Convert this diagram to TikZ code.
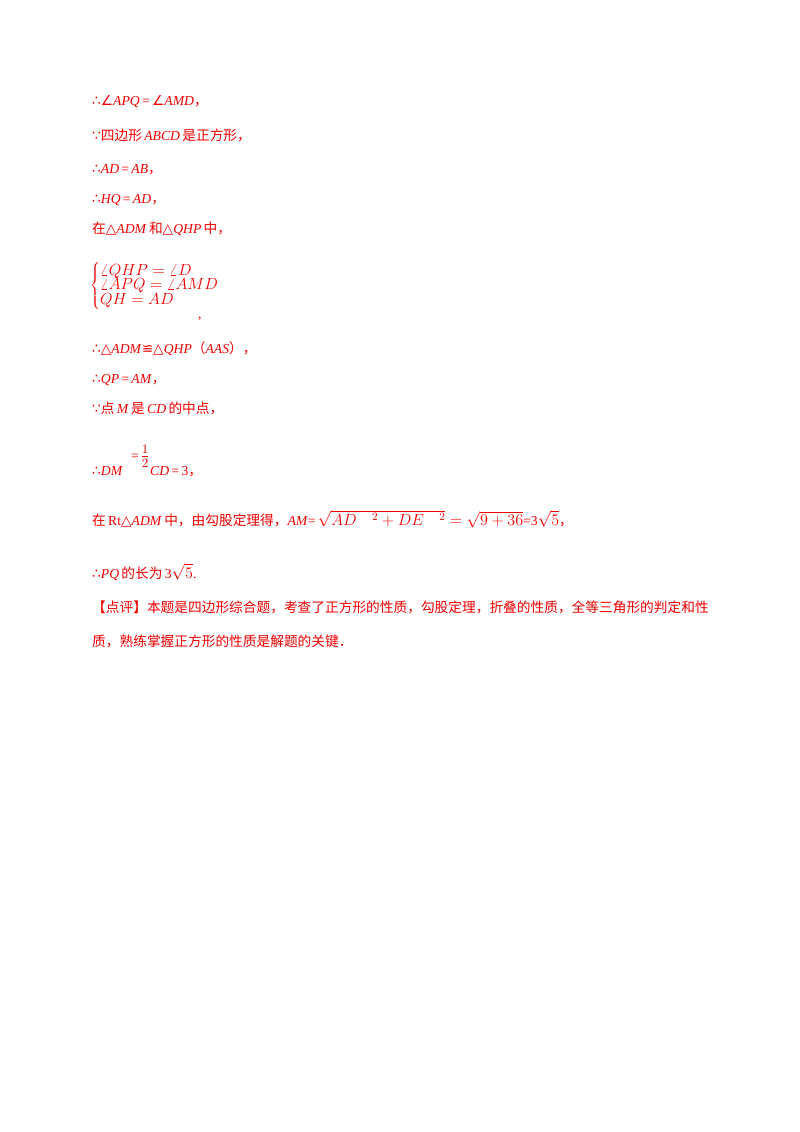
\documentclass[tikz,border=0pt]{standalone}
\usepackage{fontspec}
\usepackage{graphicx}
\setmainfont{Liberation Serif}
\newfontfamily\cjk{Noto Sans CJK SC}
\newfontfamily\symf{DejaVu Sans}
\definecolor{tred}{RGB}{240,0,0}
\newcommand{\zh}[1]{{\cjk #1}}
\newcommand{\tf}{{\symf ∴}}
\newcommand{\bc}{{\symf ∵}}
\newcommand{\ang}{{\symf ∠}}
\newcommand{\tri}{{\symf △}}
\newcommand{\bm}[1]{\scalebox{1.12}{$#1$}}
\begin{document}
\begin{tikzpicture}[x=1pt,y=-1pt,
  ln/.style={anchor=base west,inner sep=0pt,text=tred,font=\fontsize{13.7}{16}\selectfont}]
\useasboundingbox (0,0) rectangle (800,1132);
\node[ln] (l1) at (92,105) {\tf\ang\textit{APQ}\,=\,\ang\textit{AMD}\zh{，}};
\node[ln] (l2) at (92,140) {\bc\zh{四边形}\,\textit{ABCD}\,\zh{是正方形，}};
\node[ln] (l3) at (92,173) {\tf\textit{AD}\,=\,\textit{AB}\zh{，}};
\node[ln] (l4) at (92,203) {\tf\textit{HQ}\,=\,\textit{AD}\zh{，}};
\node[ln] (l5) at (92,233) {\zh{在}\tri\textit{ADM}\,\zh{和}\tri\textit{QHP}\,\zh{中，}};
\node[ln,anchor=west] (sys) at (90,286) {\bm{\left\{\begin{array}{@{}l@{}}\angle QHP=\angle D\\[-3pt] \angle APQ=\angle AMD\\[-3pt] QH=AD\end{array}\right.}};
\node[ln] (cm) at (198,318) {,};
\node[ln] (l6) at (92,353) {\tf\tri\textit{ADM}{\symf ≌}\tri\textit{QHP}\zh{（}\textit{AAS}\zh{），}};
\node[ln] (l7) at (92,383) {\tf\textit{QP}\,=\,\textit{AM}\zh{，}};
\node[ln] (l8) at (92,413) {\bc\zh{点}\,\textit{M}\,\zh{是}\,\textit{CD}\,\zh{的中点，}};
\node[ln] (l9) at (92,475) {\tf\textit{DM}};
\node[ln] (eq) at (131,460) {=};
\node[ln,anchor=center] (fr) at (145,456) {\scalebox{1.3}{$\frac{1}{2}$}};
\node[ln] (l9b) at (150,475) {\textit{CD}\,=\,3\zh{，}};
\node[ln] (l10) at (92,525) {\zh{在}\,Rt\tri\textit{ADM}\,\zh{中，由勾股定理得，}\textit{AM}=\,\bm{\sqrt{AD\quad^{2}+DE\quad^{2}}=\sqrt{9+36}}=3\bm{\sqrt{5}}\zh{，}};
\node[ln] (l11) at (92,578) {\tf\textit{PQ}\,\zh{的长为}\,3\bm{\sqrt{5}}.};
\node[ln] (l12) at (92,612) {\zh{【点评】本题是四边形综合题，考查了正方形的性质，勾股定理，折叠的性质，全等三角形的判定和性}};
\node[ln] (l13) at (92,646) {\zh{质，熟练掌握正方形的性质是解题的关键．}};
\end{tikzpicture}
\end{document}
